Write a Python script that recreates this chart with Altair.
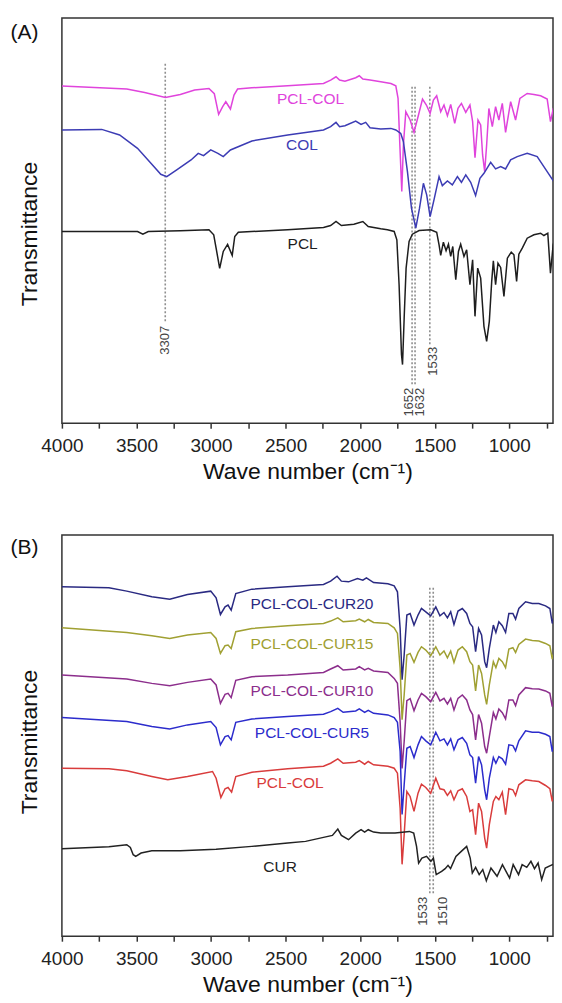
import altair as alt
import pandas as pd

# ---------------- Panel A data (wavenumber, transmittance in arbitrary offset units) ----------------
A_PCLCOL_WN = [4000, 3565, 3445, 3306, 3206, 3110, 3014, 2978, 2949, 2922, 2901, 2870, 2846, 2822, 2726, 2486, 2246, 2198, 2162, 2138,
               2102, 2030, 2006, 1982, 1934, 1862, 1794, 1761, 1746, 1734, 1721, 1710, 1694, 1665, 1639, 1612, 1582, 1556, 1531, 1509,
               1487, 1460, 1438, 1415, 1393, 1366, 1344, 1321, 1292, 1264, 1246, 1230, 1210, 1192, 1179, 1165, 1152, 1137, 1114, 1092,
               1070, 1047, 1025, 991, 958, 929, 880, 835, 790, 746, 724, 705, 650]
A_PCLCOL_T = [337.7, 334.7, 331.3, 326.3, 329.3, 333.7, 335.3, 330, 309.3, 317, 322, 314.7, 328.7, 334.7, 336, 338, 340.3, 343.7, 347, 343.7,
              342.5, 346, 348, 344.7, 343.7, 342, 340.3, 338, 325.3, 279, 232, 279, 312, 303.7, 291.3, 307, 324.7, 318.7, 310.3, 323.7,
              328, 312, 318.7, 308, 319.3, 300.3, 315.3, 320.3, 311.3, 318.7, 302, 266, 303.7, 298.7, 268.7, 252, 278.7, 315.3, 297, 317,
              303.7, 320.3, 291.3, 322, 303.7, 325.3, 330.3, 329.3, 328, 324.7, 302, 315.3, 316]

A_COL_WN = [4000, 3733, 3613, 3493, 3397, 3337, 3297, 3230, 3134, 3086, 3050, 3002, 2954, 2918, 2870, 2726, 2486, 2246, 2198, 2162,
            2138, 2102, 2030, 1994, 1963, 1934, 1862, 1794, 1761, 1728, 1710, 1683, 1656, 1627, 1602, 1576, 1554, 1531, 1505, 1471,
            1449, 1415, 1382, 1348, 1321, 1292, 1259, 1226, 1197, 1170, 1125, 1092, 1058, 1025, 991, 947, 880, 813, 746, 679, 650]
A_COL_T = [293.7, 294.3, 288.7, 275.3, 259.3, 249.3, 247, 253.7, 263.7, 270.3, 268, 273.7, 270.3, 267, 273.7, 282.7, 288.7, 293.7, 297, 301.3,
           297, 298, 302.7, 299.3, 301.3, 296, 294.7, 295.3, 293.7, 290.3, 282, 252, 215.3, 195.3, 215.3, 240.3, 228.7, 207, 223.7, 247,
           238, 242.7, 238.7, 247, 241.3, 248.7, 241.3, 228, 245.3, 250.3, 261.3, 254.7, 257, 254.7, 263.7, 267, 270.3, 267, 252, 237, 228.7]

A_PCL_WN = [4000, 3493, 3457, 3421, 3206, 3014, 2982, 2966, 2942, 2918, 2889, 2858, 2841, 2817, 2486, 2246, 2198, 2162, 2126, 2042,
            1982, 1946, 1862, 1817, 1772, 1754, 1739, 1723, 1716, 1705, 1692, 1672, 1650, 1605, 1527, 1487, 1471, 1460, 1442, 1424,
            1408, 1393, 1379, 1359, 1341, 1326, 1304, 1286, 1264, 1246, 1230, 1212, 1192, 1170, 1152, 1134, 1118, 1107, 1092, 1076,
            1058, 1036, 1013, 987, 969, 951, 936, 913, 880, 835, 790, 768, 742, 724, 706, 679, 650]
A_PCL_T = [192, 192, 189.3, 192, 192.7, 193.7, 188.7, 175.3, 155, 172, 179, 168, 187, 191.3, 193.7, 196, 198, 202, 198, 199.3,
           202, 197, 194.7, 193.7, 192, 183.7, 138.7, 68.7, 58.7, 105.3, 155.3, 182, 189.3, 193, 193.7, 191.3, 178.7, 168, 181.3, 172.7,
           179.3, 167, 177, 143.7, 172, 179.3, 167, 173.7, 138.7, 163.7, 107, 155.3, 145.3, 97, 82, 102, 142, 162.7, 138.7, 160.3,
           156, 127, 165.3, 171.3, 168.7, 142, 169.3, 175.3, 185.3, 188.7, 190.3, 188, 190.3, 150.3, 178.7, 193.7, 193.7]

A_NAMES = ["PCL-COL", "COL", "PCL"]
A_COLORS = ["#e044dc", "#3c3cb4", "#1e1e1e"]
A_LABEL_WN = [2333, 2390, 2386]
A_LABEL_T = [325, 278.5, 179]

A_MARK_WN = [3307, 1652, 1632, 1533]
A_MARK_TOP = [360, 337, 337, 337]
A_MARK_BOTTOM = [100, 39, 39, 77]
A_MARK_LABEL_T = [83, 21, 21, 62]

# ---------------- Panel B data ----------------
B_CUR20_WN = [4000, 3685, 3565, 3397, 3277, 3158, 3002, 2966, 2937, 2906, 2886, 2865, 2834, 2726, 2486, 2246, 2198, 2155, 2126, 2078,
              2018, 1982, 1958, 1910, 1814, 1772, 1750, 1732, 1719, 1705, 1687, 1665, 1639, 1612, 1589, 1560, 1527, 1493, 1465, 1438,
              1415, 1393, 1371, 1344, 1315, 1286, 1264, 1246, 1226, 1206, 1186, 1165, 1152, 1134, 1107, 1090, 1070, 1047, 1025, 1003,
              976, 958, 936, 891, 846, 802, 757, 728, 712, 695, 650]
B_CUR20_T = [350, 349, 345.7, 340, 337.7, 342.3, 345.7, 339, 322.3, 330, 331.7, 326.7, 343.3, 347.7, 350, 352.3, 355.7, 360.7, 355.7, 355,
             358.3, 356.7, 359, 354.3, 353, 351, 345, 308.3, 257, 281.7, 321.7, 323.3, 311.7, 321.7, 328.3, 325, 321, 330, 321, 324.3,
             319, 325, 312.3, 325.7, 328.3, 323.3, 313.3, 310, 285, 308.3, 301.7, 275, 269, 288.3, 311.7, 304.3, 315, 311, 304.3, 323.3,
             323.3, 317.7, 328.3, 335, 333.3, 333.3, 331, 328.3, 313.3, 323.3, 326.7]

B_WN = [4000, 3565, 3397, 3277, 3158, 3002, 2966, 2937, 2906, 2886, 2865, 2834, 2726, 2486, 2246, 2198, 2150, 2114, 2030, 2006,
        1970, 1946, 1910, 1814, 1772, 1750, 1732, 1719, 1705, 1687, 1665, 1639, 1612, 1589, 1560, 1527, 1493, 1465, 1438, 1415,
        1393, 1371, 1344, 1315, 1286, 1264, 1246, 1226, 1206, 1186, 1165, 1152, 1134, 1107, 1090, 1070, 1047, 1025, 1003, 976,
        958, 936, 891, 846, 802, 757, 728, 712, 695, 650]
B_CUR15_T = [309, 304.3, 301, 298.3, 301.7, 304.3, 298.3, 283.3, 291, 291.7, 288.3, 305, 308.3, 311, 313.3, 315.7, 319, 315, 316, 317.7,
             315, 317.3, 314.3, 313.3, 309, 303.3, 268.3, 217, 241.7, 281.7, 283.3, 274.3, 284.3, 290, 286.7, 281, 290, 281.7, 285.7, 279,
             285.7, 274.3, 286.7, 290, 285, 275, 271.7, 245.7, 271.7, 263.3, 241.7, 232.3, 251.7, 275, 269, 278.3, 275, 269, 287.7, 289,
             284.3, 292.3, 297.7, 296.3, 295.7, 293.3, 291, 277.7, 287.7, 290]
B_CUR10_T = [261.7, 257.7, 253.3, 251, 254.3, 257.7, 251.7, 233.3, 242.3, 243.3, 239, 256.3, 260, 261.7, 264.3, 267.7, 271, 266.7, 267.7, 270,
             266.7, 268.3, 265.7, 264.3, 258.3, 253.3, 215, 168, 195, 236, 238, 226, 236.7, 243.3, 240, 235, 244.3, 235.7, 238.3, 232.7,
             238.3, 226.7, 238.3, 241.7, 236.7, 226.7, 222, 196.7, 222, 213.3, 190, 183.3, 200, 224, 217.7, 227.7, 224, 217.7, 236.7, 236.7,
             231, 241.7, 249, 248, 247.7, 245.7, 243.3, 230, 240.7, 242.7]
B_CUR5_T = [219, 215, 210, 207.7, 211.7, 215, 209, 191.7, 200, 201, 196.7, 214.3, 217.7, 220, 222.3, 225, 228.3, 224.3, 225.7, 227.7,
            224.3, 226.3, 223.3, 221.7, 219, 214.3, 185, 122, 151.7, 188.3, 190, 179, 191.7, 200, 195.7, 191.7, 204.3, 195.7, 197.7, 191.7,
            197.7, 186.7, 196.7, 199, 193.3, 181.7, 179, 153.3, 180, 171.7, 146.7, 136.7, 158.3, 179, 173.3, 180, 177.7, 172.3, 191.7, 191,
            185.7, 195.7, 205.7, 204.3, 204.3, 202.3, 200, 185, 197.7, 199]

B_PCLCOL_WN = [4000, 3685, 3565, 3397, 3290, 3158, 2990, 2966, 2934, 2906, 2886, 2862, 2834, 2726, 2486, 2246, 2198, 2150, 2114, 2030,
               2006, 1970, 1946, 1910, 1814, 1772, 1750, 1732, 1719, 1705, 1687, 1665, 1639, 1612, 1589, 1560, 1527, 1493, 1465, 1438,
               1415, 1393, 1371, 1344, 1315, 1286, 1264, 1246, 1226, 1206, 1186, 1165, 1152, 1134, 1107, 1090, 1070, 1047, 1025, 1003,
               976, 958, 936, 891, 846, 802, 757, 728, 712, 695, 650]
B_PCLCOL_T = [168.3, 167.7, 165.7, 160, 156.7, 160, 165, 158.3, 139, 147.7, 149, 144.3, 160, 164.3, 167.7, 170.3, 173.3, 177.7, 173.3, 174.3,
              176, 172.3, 175, 171.7, 170.3, 168.3, 163.3, 128.3, 72, 101.7, 145, 140, 125, 143.3, 152.3, 149, 143.3, 158.3, 147.7, 146.7,
              141, 145.7, 136.7, 145.7, 147.7, 140, 125, 126.7, 101.7, 133.3, 125, 98.3, 88.3, 111.7, 135, 140, 136.7, 144.3, 121.7, 147.7,
              146.7, 141, 151.7, 156.7, 155.7, 155, 151, 147.7, 135, 146.7, 146.7]

B_CUR_WN = [4000, 3685, 3565, 3541, 3522, 3505, 3469, 3397, 3206, 2966, 2726, 2486, 2366, 2246, 2186, 2150, 2126, 2078, 2030, 1994,
            1970, 1946, 1910, 1862, 1766, 1670, 1641, 1622, 1608, 1586, 1555, 1526, 1509, 1490, 1454, 1430, 1411, 1394, 1358, 1322,
            1286, 1262, 1248, 1226, 1202, 1178, 1154, 1123, 1082, 1046, 1022, 998, 974, 938, 914, 883, 855, 831, 807, 783, 759, 711, 650]
B_CUR_T = [87.7, 89.7, 91.7, 89, 81.7, 80, 83.3, 85.7, 85.7, 87, 90, 93.3, 95, 99, 101, 107.3, 101, 96.7, 103.3, 106.7,
           104.3, 106.7, 104.3, 103.3, 103.3, 105, 103.3, 90, 73.3, 78.3, 80, 75, 78.3, 61.7, 65, 67.7, 71, 67.7, 80, 85,
           90, 78.3, 63.3, 69, 61.7, 66.7, 55.7, 68.3, 60, 71.7, 65, 58.3, 71.7, 61.7, 71.7, 69, 75, 67.7, 73.3, 56.7, 68.3, 71.7, 73.3]

B_NAMES = ["PCL-COL-CUR20", "PCL-COL-CUR15", "PCL-COL-CUR10", "PCL-COL-CUR5", "PCL-COL", "CUR"]
B_COLORS = ["#2a2a82", "#a0a032", "#8c2e8c", "#2c2ccc", "#d93c3c", "#222222"]
B_LABEL_WN = [2323, 2323, 2323, 2323, 2470, 2537]
B_LABEL_T = [333.3, 292.3, 245.7, 203.3, 153.3, 69]

B_MARK_WN = [1533, 1510]
B_MARK_TOP = [349, 349]
B_MARK_BOTTOM = [42, 42]
B_MARK_LABEL_T = [25, 25]

X_DOMAIN = [4000, 707]
X_TICKS = list(range(4000, 700, -250))

FONT = "Liberation Sans"
GRAY = "#8f8f8f"


def x_enc():
    return alt.X(
        "w:Q",
        scale=alt.Scale(domain=X_DOMAIN, nice=False, zero=False),
        axis=alt.Axis(
            title="Wave number (cm\u207b\u00b9)",
            values=X_TICKS,
            labelExpr="datum.value % 500 === 0 ? datum.label : ''",
            format="d",
            labelFlush=False,
            labelOverlap=False,
            tickSize=5,
            tickWidth=1.5,
            tickColor="#333333",
            labelFontSize=19,
            labelColor="#222222",
            labelPadding=8,
            titleFontSize=23,
            titleFontWeight="normal",
            titleColor="#111111",
            titlePadding=5,
            domain=False,
            grid=False,
        ),
    )


def y_enc(top, title_y):
    return alt.Y(
        "t:Q",
        scale=alt.Scale(domain=[0, top], nice=False, zero=False),
        axis=alt.Axis(
            title="Transmittance",
            labels=False,
            ticks=False,
            domain=False,
            grid=False,
            titleFontSize=23,
            titleFontWeight="normal",
            titleColor="#111111",
            titlePadding=20,
            titleY=title_y,
        ),
    )


def panel(series, names, colors, label_wn, label_t, mark_wn, mark_top, mark_bottom,
          mark_label_t, mark_label_dy, letter, letter_y, height, title_y):
    rows = []
    for name, (wn, tt) in zip(names, series):
        for i, (w, t) in enumerate(zip(wn, tt)):
            rows.append({"series": name, "w": w, "t": t, "i": i})
    df = pd.DataFrame(rows)
    cscale = alt.Scale(domain=names, range=colors)
    yscale_top = height

    lines = alt.Chart(df).mark_line(strokeWidth=1.5, clip=True).encode(
        x=x_enc(), y=y_enc(yscale_top, title_y),
        color=alt.Color("series:N", scale=cscale, legend=None),
        order="i:Q",
    )
    ldf = pd.DataFrame({"series": names, "w": label_wn, "t": label_t})
    labels = alt.Chart(ldf).mark_text(fontSize=15.5, font=FONT, align="center", baseline="middle").encode(
        x=x_enc(), y=y_enc(yscale_top, title_y), text="series:N",
        color=alt.Color("series:N", scale=cscale, legend=None),
    )
    mdf = pd.DataFrame({"w": mark_wn, "t": mark_top, "t2": mark_bottom,
                        "lt": mark_label_t, "txt": [str(v) for v in mark_wn]})
    rules = alt.Chart(mdf).mark_rule(strokeDash=[2, 2], strokeWidth=1.6, color=GRAY).encode(
        x=x_enc(), y=y_enc(yscale_top, title_y), y2="t2:Q"
    )
    layers = [rules, lines, labels]
    for k, wv in enumerate(mark_wn):
        one = mdf[mdf["w"] == wv]
        layers.append(
            alt.Chart(one).mark_text(angle=270, fontSize=13, font=FONT, color="#444444",
                                     align="center", baseline="middle", dy=mark_label_dy[k]).encode(
                x=x_enc(), y=alt.Y("lt:Q", scale=alt.Scale(domain=[0, yscale_top], nice=False, zero=False)),
                text="txt:N",
            )
        )
    letter_mark = alt.Chart(pd.DataFrame({"l": [letter]})).mark_text(
        align="left", baseline="top", fontSize=21, font=FONT, color="#111111"
    ).encode(x=alt.value(-51.5), y=alt.value(letter_y), text="l:N")
    layers.append(letter_mark)
    return alt.layer(*layers).properties(width=492, height=height)


chart_a = panel(
    [(A_PCLCOL_WN, A_PCLCOL_T), (A_COL_WN, A_COL_T), (A_PCL_WN, A_PCL_T)],
    A_NAMES, A_COLORS, A_LABEL_WN, A_LABEL_T,
    A_MARK_WN, A_MARK_TOP, A_MARK_BOTTOM, A_MARK_LABEL_T, [0, -3.5, 5, 3],
    "(A)", 4.4, 406, 216,
)
chart_b = panel(
    [(B_CUR20_WN, B_CUR20_T), (B_WN, B_CUR15_T), (B_WN, B_CUR10_T), (B_WN, B_CUR5_T),
     (B_PCLCOL_WN, B_PCLCOL_T), (B_CUR_WN, B_CUR_T)],
    B_NAMES, B_COLORS, B_LABEL_WN, B_LABEL_T,
    B_MARK_WN, B_MARK_TOP, B_MARK_BOTTOM, B_MARK_LABEL_T, [-7, 10],
    "(B)", 2, 402, 207,
)

chart = alt.vconcat(chart_a, chart_b, spacing=50).resolve_scale(
    color="independent"
).properties(
    padding={"left": 1, "top": 8, "right": 0, "bottom": 0}
).configure(font=FONT).configure_view(stroke="#333333", strokeWidth=1.5)

chart.save("out.html", embed_options={"renderer": "svg", "actions": False})
